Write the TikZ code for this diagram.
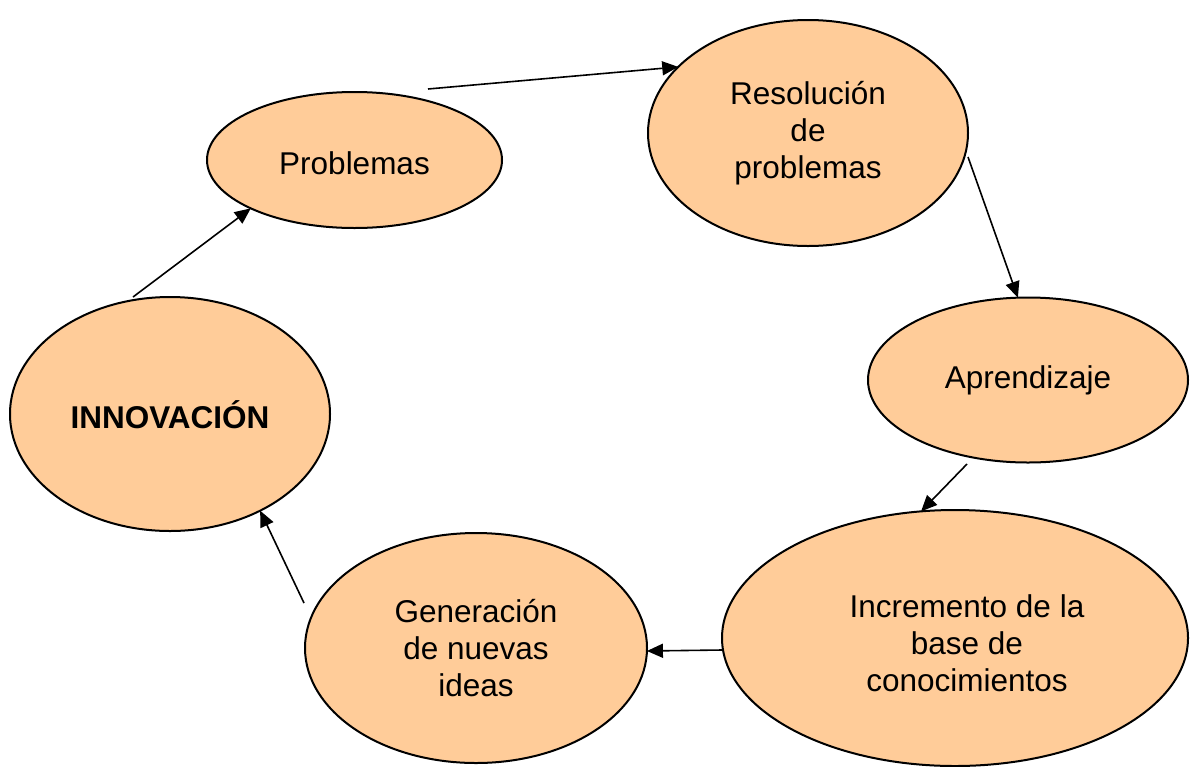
\documentclass[tikz,border=0pt]{standalone}
\usepackage{fontspec}
\setmainfont{Liberation Sans}
\usetikzlibrary{shapes.geometric,arrows.meta}
\definecolor{peach}{HTML}{FFCC99}
\begin{document}
\begin{tikzpicture}[x=1pt,y=-1pt,
  bubble/.style={ellipse, draw=black, line width=2pt, fill=peach, inner sep=0pt, outer sep=0pt, align=center,
    font=\fontsize{31.5}{37}\selectfont},
  conn/.style={line width=1.6pt, -{Triangle[length=16pt,width=14pt]}}]
\useasboundingbox (0,0) rectangle (1190,766);
\node[bubble, minimum width=295pt, minimum height=136pt] (prob) at (354.5,160) {\rule{0pt}{29pt}Problemas};
\node[bubble, minimum width=320pt, minimum height=226pt] (res) at (808,133) {Resolución\\de\\problemas};
\node[bubble, minimum width=320pt, minimum height=165pt] (apr) at (1028,380) {Aprendizaje};
\node[bubble, minimum width=466pt, minimum height=256pt] (inc) at (955,638) {\rule{0pt}{34pt}\hspace*{24pt}Incremento de la\\\hspace*{24pt}base de\\\hspace*{24pt}conocimientos};
\node[bubble, minimum width=342pt, minimum height=230pt] (gen) at (476,648) {Generación\\de nuevas\\ideas};
\node[bubble, minimum width=320pt, minimum height=234pt] (inn) at (170,414) {\rule{0pt}{29pt}\bfseries INNOVACIÓN};
\coordinate (s1) at (428,89);
\coordinate (s2) at (968,157);
\coordinate (s3) at (967,464);
\coordinate (s4) at (722,650);
\coordinate (s5) at (304,603);
\coordinate (s6) at (133,297);
\draw[conn] (s1) -- (res.153.9);
\draw[conn] (s2) -- (apr.97.5);
\draw[conn] (s3) -- (inc.105);
\draw[conn] (s4) -- (gen.-1);
\draw[conn] (s5) -- (inn.-47.8);
\draw[conn] (s6) -- (prob.-155);
\end{tikzpicture}
\end{document}
